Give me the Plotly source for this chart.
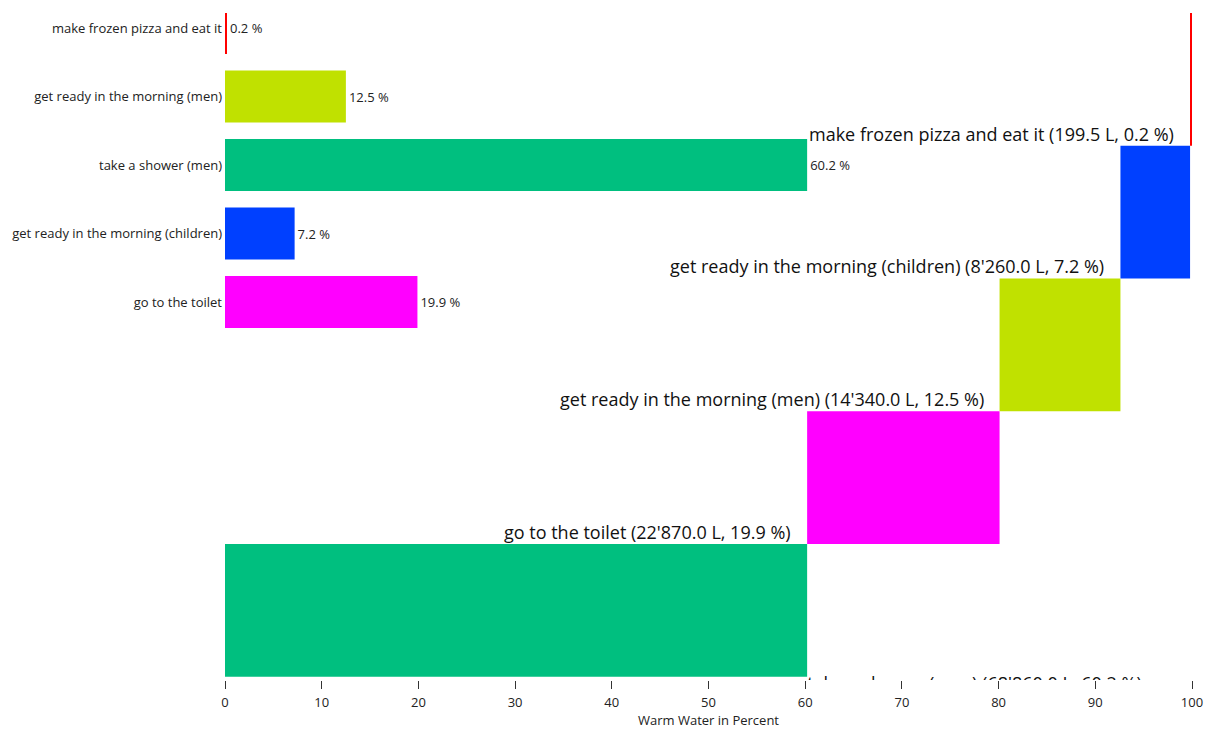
import plotly.graph_objects as go

# ---- data ----
activities = [
    "make frozen pizza and eat it",
    "get ready in the morning (men)",
    "take a shower (men)",
    "get ready in the morning (children)",
    "go to the toilet",
]
liters = [199.5, 14340.0, 68860.0, 8260.0, 22870.0]
percent = [0.2, 12.5, 60.2, 7.2, 19.9]
colors = ["#FF0000", "#C0E100", "#00BF7F", "#0040FF", "#FF00FF"]

x_ticks = [0, 10, 20, 30, 40, 50, 60, 70, 80, 90, 100]
x_title = "Warm Water in Percent"

FONT = "Open Sans"
SMALL = 13
BIG = 18

# ---- staircase (sorted descending by share) ----
order = sorted(range(len(activities)), key=lambda i: -percent[i])
st_names = [activities[i] for i in order]
st_pct = [percent[i] for i in order]
st_lit = [liters[i] for i in order]
st_col = [colors[i] for i in order]
st_base = []
acc = 0.0
for p in st_pct:
    st_base.append(acc)
    acc += p
st_pos = [k + 0.5 for k in range(len(order))]


def fmt_l(v):
    return f"{v:,.1f}".replace(",", "'")


st_labels = [f"{n} ({fmt_l(l)} L, {p} %)" for n, l, p in zip(st_names, st_lit, st_pct)]

fig = go.Figure()

fig.add_trace(go.Bar(
    orientation="h", x=st_pct, base=st_base, y=st_pos, width=1,
    marker=dict(color=st_col, line=dict(width=0)),
    xaxis="x", yaxis="y", showlegend=False, hoverinfo="skip",
))

# labels that fit to the left of their step
annotations = []
for k in range(len(order)):
    if st_base[k] > 0:
        annotations.append(dict(
            x=st_base[k], y=k, xref="x", yref="y",
            text=st_labels[k], showarrow=False,
            xanchor="right", yanchor="bottom", xshift=-14, yshift=-2,
            font=dict(family=FONT, size=BIG, color="#111"),
        ))

# label that does not fit: placed right of its step, clipped by the plot area
fit_idx = [k for k in range(len(order)) if st_base[k] == 0]
fig.add_trace(go.Scatter(
    x=[st_base[k] + st_pct[k] for k in fit_idx], y=[k for k in fit_idx],
    mode="text", text=[st_labels[k] for k in fit_idx],
    textposition="bottom right", cliponaxis=True,
    textfont=dict(family=FONT, size=BIG, color="#111"),
    xaxis="x", yaxis="y", showlegend=False, hoverinfo="skip",
))

# ---- inset bar chart ----
fig.add_trace(go.Bar(
    orientation="h", x=percent, y=activities, width=0.76,
    marker=dict(color=colors, line=dict(width=0)),
    text=[f"{p} %" for p in percent], textposition="outside",
    textfont=dict(family=FONT, size=SMALL, color="#222"),
    cliponaxis=False,
    xaxis="x", yaxis="y2", showlegend=False, hoverinfo="skip",
))

fig.update_layout(
    width=1215, height=733,
    margin=dict(l=225, r=23, t=13, b=53),
    plot_bgcolor="white", paper_bgcolor="white",
    barmode="overlay",
    font=dict(family=FONT, size=SMALL, color="#222"),
    xaxis=dict(
        range=[0, 100], tickvals=x_ticks, ticks="outside", ticklen=8,
        tickcolor="#333", showgrid=False, zeroline=False, showline=False,
        title=dict(text=x_title, standoff=2, font=dict(size=SMALL)),
        tickfont=dict(size=SMALL), anchor="y", ticklabelstandoff=2,
    ),
    yaxis=dict(
        range=[-0.025, 5], showticklabels=False, showgrid=False,
        zeroline=False, ticks="", showline=False,
    ),
    yaxis2=dict(
        overlaying="y", side="left", type="category",
        categoryorder="array", categoryarray=activities,
        range=[9.52, -0.22], showgrid=False, zeroline=False, ticks="",
        showline=False, tickfont=dict(size=SMALL), ticklabelstandoff=2,
    ),
    annotations=annotations,
)

fig.write_html("out.html", config={"displayModeBar": False},
               post_script="document.body.style.margin='0';")
